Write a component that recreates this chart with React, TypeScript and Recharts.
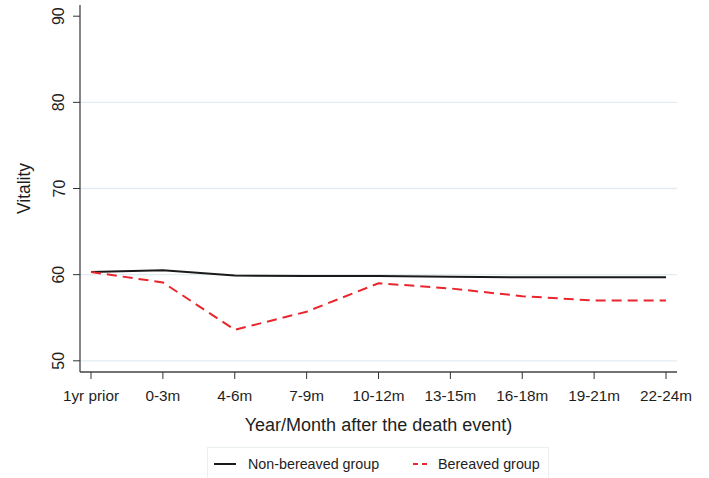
import React from "react";
import { LineChart, Line, XAxis, YAxis, CartesianGrid } from "recharts";

const categories = ["1yr prior", "0-3m", "4-6m", "7-9m", "10-12m", "13-15m", "16-18m", "19-21m", "22-24m"];
const nonBereaved = [60.3, 60.5, 59.9, 59.85, 59.85, 59.75, 59.7, 59.7, 59.7];
const bereaved = [60.3, 59.1, 53.6, 55.7, 59.0, 58.4, 57.5, 57.0, 57.0];
const yTicks = [50, 60, 70, 80, 90];
const gridValues = [50, 60, 70, 80];

const data = categories.map((c, i) => ({ cat: c, non: nonBereaved[i], ber: bereaved[i] }));

const FONT = "'Liberation Sans', Arial, sans-serif";
const TXT = "#1e1e1e";

const YTick = (props: any) => {
  const { x, y, payload } = props;
  const cx = x - 12;
  return (
    <text x={cx} y={y} transform={`rotate(-90 ${cx} ${y})`} textAnchor="middle" dominantBaseline="central" fontSize={16} fontFamily={FONT} fill={TXT}>
      {payload.value}
    </text>
  );
};

const XTick = (props: any) => {
  const { x, y, payload } = props;
  return (
    <text x={x} y={y + 14} textAnchor="middle" dominantBaseline="central" fontSize={15.3} fontFamily={FONT} fill={TXT}>
      {payload.value}
    </text>
  );
};

const XLabel = (props: any) => {
  const vb = props.viewBox || {};
  return (
    <text x={vb.x + vb.width / 2} y={vb.y + 53} textAnchor="middle" dominantBaseline="central" fontSize={18} fontFamily={FONT} fill={TXT}>
      Year/Month after the death event)
    </text>
  );
};

const YLabel = (props: any) => {
  const vb = props.viewBox || {};
  const cx = 24;
  const cy = vb.y + vb.height / 2;
  return (
    <text x={cx} y={cy} transform={`rotate(-90 ${cx} ${cy})`} textAnchor="middle" dominantBaseline="central" fontSize={17.5} fontFamily={FONT} fill={TXT}>
      Vitality
    </text>
  );
};

export default function App() {
  return (
    <div style={{ position: "absolute", left: 0, top: 0, width: 709, height: 478, background: "#fff", overflow: "hidden" }}>
      <LineChart width={709} height={478} data={data} margin={{ top: 5, right: 32, left: 0, bottom: 0 }}>
        <CartesianGrid horizontal vertical={false} horizontalValues={gridValues} stroke="#e3edf1" strokeWidth={1.3} />
        <XAxis
          dataKey="cat"
          height={106}
          padding={{ left: 11, right: 11 }}
          tick={<XTick />}
          tickLine={{ stroke: "#333" }}
          tickSize={7}
          axisLine={{ stroke: "#444", strokeWidth: 1.3 }}
          interval={0}
          label={<XLabel />}
        />
        <YAxis
          width={80}
          type="number"
          domain={[48.7, 91.3]}
          ticks={yTicks}
          allowDataOverflow
          tick={<YTick />}
          tickLine={{ stroke: "#333" }}
          tickSize={7}
          axisLine={{ stroke: "#444", strokeWidth: 1.3 }}
          label={<YLabel />}
        />
        <Line dataKey="non" stroke="#1a1a1a" strokeWidth={2} dot={false} isAnimationActive={false} type="linear" />
        <Line dataKey="ber" stroke="#e8262b" strokeWidth={2} strokeDasharray="10 6" dot={false} isAnimationActive={false} type="linear" />
      </LineChart>
      <div style={{ position: "absolute", left: 207, top: 447, width: 342, height: 40, border: "1px solid #e9eef1", boxSizing: "border-box" }}>
        <svg width={342} height={40} style={{ position: "absolute", left: 0, top: 0 }}>
          <line x1={6} x2={28} y1={16} y2={16} stroke="#1a1a1a" strokeWidth={2} />
          <text x={40} y={16} dominantBaseline="central" fontSize={14.3} fontFamily={FONT} fill={TXT}>Non-bereaved group</text>
          <line x1={205} x2={221} y1={16} y2={16} stroke="#e8262b" strokeWidth={2} strokeDasharray="5 4" />
          <text x={230} y={16} dominantBaseline="central" fontSize={14.3} fontFamily={FONT} fill={TXT}>Bereaved group</text>
        </svg>
      </div>
    </div>
  );
}
